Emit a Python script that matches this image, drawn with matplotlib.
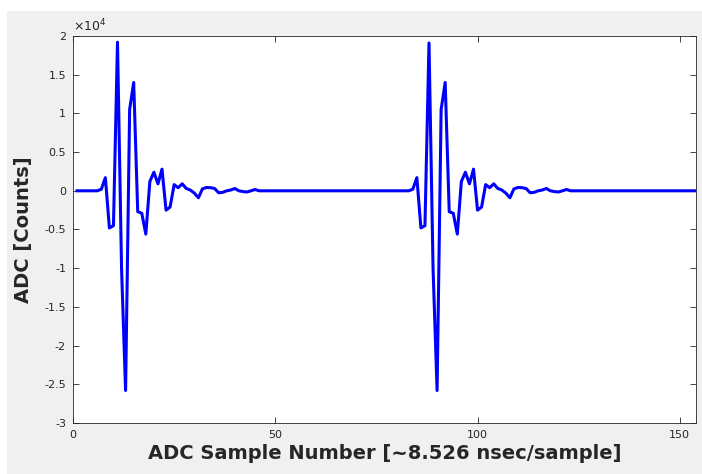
import numpy as np
import matplotlib
matplotlib.use("Agg")
import matplotlib.pyplot as plt
from matplotlib.ticker import MultipleLocator, FuncFormatter
from matplotlib.patches import Rectangle

# Samples 1..77 of the first echo and 78..154 of the second (ADC counts)
pulse_1 = [0, 0, 0, 0, 0, 0, 200, 1700, -4800, -4500,
           19200, -10000, -25800, 10500, 14000, -2700, -2900, -5600, 1200, 2400,
           900, 2800, -2500, -2100, 800, 400, 900, 300, 100, -300,
           -900, 250, 430, 400, 300, -250, -200, 0, 100, 300,
           0, -100, -150, 0, 170, 0, 0, 0, 0, 0,
           0, 0, 0, 0, 0, 0, 0, 0, 0, 0,
           0, 0, 0, 0, 0, 0, 0, 0, 0, 0,
           0, 0, 0, 0, 0, 0, 0]
pulse_2 = [0, 0, 0, 0, 0, 0, 200, 1700, -4800, -4500,
           19100, -10000, -25800, 10500, 14000, -2700, -2900, -5600, 1200, 2400,
           900, 2800, -2500, -2100, 800, 400, 900, 300, 100, -300,
           -900, 250, 430, 400, 300, -250, -200, 0, 100, 300,
           0, -100, -150, 0, 170, 0, 0, 0, 0, 0,
           0, 0, 0, 0, 0, 0, 0, 0, 0, 0,
           0, 0, 0, 0, 0, 0, 0, 0, 0, 0,
           0, 0, 0, 0, 0, 0, 0]
adc_counts = pulse_1 + pulse_2
sample_number = list(range(1, len(adc_counts) + 1))

W, H = 702, 474
fig = plt.figure(figsize=(W / 100, H / 100), dpi=100, facecolor="white")
# grey MATLAB figure window area (white strip at top and left)
fig.patches.append(Rectangle((7 / W, 0), 1 - 7 / W, (H - 11) / H,
                             transform=fig.transFigure, facecolor="#f0f0f0",
                             edgecolor="none", zorder=-10))
ax = fig.add_axes([73 / W, (H - 423) / H, (696 - 73) / W, (423 - 36) / H])
ax.set_facecolor("white")

ax.plot(sample_number, adc_counts, color=(0, 0, 1), linewidth=2.2)

ax.set_xlim(0, 154)
ax.set_ylim(-30000, 20000)
ax.xaxis.set_major_locator(MultipleLocator(50))
ax.yaxis.set_major_locator(MultipleLocator(5000))

ax.yaxis.set_major_formatter(FuncFormatter(lambda v, p: "%g" % (v / 1e4)))
ax.xaxis.set_major_formatter(FuncFormatter(lambda v, p: "%d" % v))

tc = "#262626"
ax.tick_params(direction="in", length=4, width=0.6, colors=tc, labelsize=8,
               top=True, right=True, pad=5)
for sp in ax.spines.values():
    sp.set_color(tc)
    sp.set_linewidth(0.6)

ax.text(0.0, 1.005, r"$\times10^{4}$", transform=ax.transAxes, fontsize=9,
        color=tc, ha="left", va="bottom")

ax.set_xlabel("ADC Sample Number [~8.526 nsec/sample]", fontsize=14,
              fontweight="bold", color=tc, labelpad=3)
ax.set_ylabel("ADC [Counts]", fontsize=14, fontweight="bold", color=tc,
              labelpad=8)

fig.savefig("out.png", dpi=100, facecolor=fig.get_facecolor())
